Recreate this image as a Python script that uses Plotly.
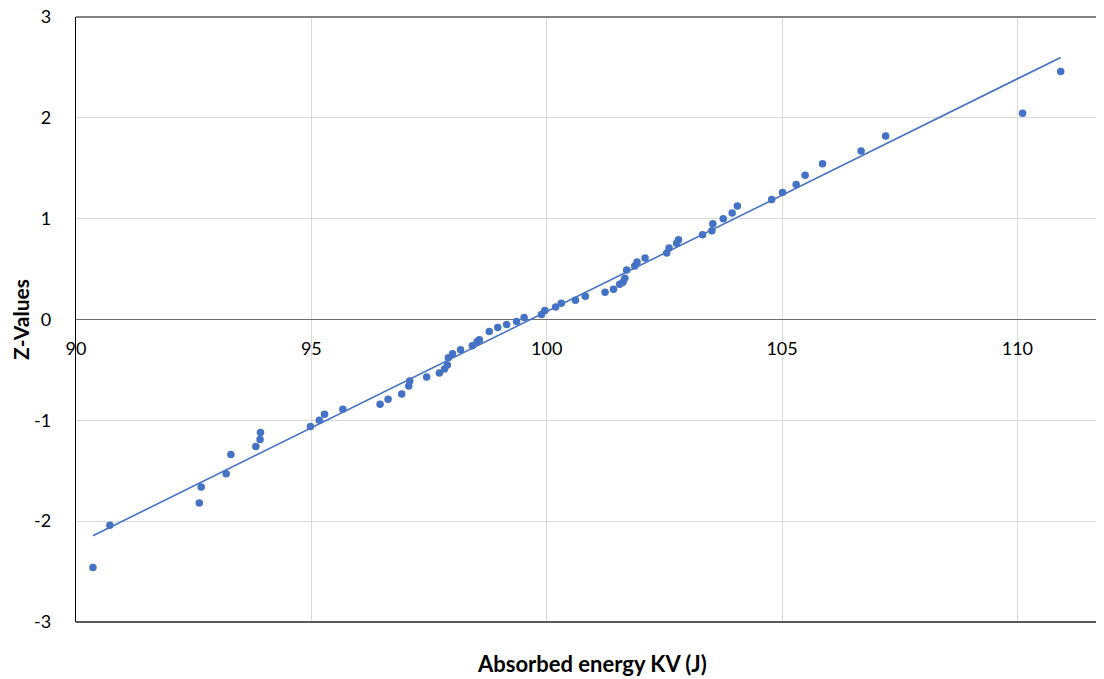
import numpy as np
import plotly.graph_objects as go

# Absorbed energy KV (J) values and their Z-values
energy = [90.36, 90.72, 92.62, 92.66, 93.19, 93.29, 93.82, 93.91, 93.92, 94.98,
          95.17, 95.28, 95.67, 96.46, 96.63, 96.92, 97.07, 97.09, 97.45, 97.72,
          97.83, 97.89, 97.91, 98.00, 98.17, 98.42, 98.52, 98.57, 98.78, 98.96,
          99.15, 99.36, 99.52, 99.89, 99.96, 100.19, 100.31, 100.61, 100.82, 101.24,
          101.42, 101.55, 101.62, 101.66, 101.70, 101.87, 101.92, 102.09, 102.55, 102.60,
          102.76, 102.80, 103.31, 103.51, 103.53, 103.75, 103.94, 104.05, 104.78, 105.01,
          105.30, 105.49, 105.86, 106.68, 107.20, 110.11, 110.92]
z_values = [-2.46, -2.04, -1.82, -1.66, -1.53, -1.34, -1.26, -1.19, -1.12, -1.06,
            -1.00, -0.94, -0.89, -0.84, -0.79, -0.74, -0.66, -0.61, -0.57, -0.53,
            -0.49, -0.45, -0.38, -0.34, -0.30, -0.26, -0.22, -0.20, -0.12, -0.08,
            -0.05, -0.02, 0.02, 0.05, 0.09, 0.125, 0.16, 0.19, 0.23, 0.27,
            0.30, 0.35, 0.37, 0.41, 0.49, 0.53, 0.57, 0.61, 0.66, 0.71,
            0.755, 0.79, 0.84, 0.88, 0.95, 1.00, 1.055, 1.125, 1.19, 1.26,
            1.34, 1.43, 1.545, 1.67, 1.82, 2.045, 2.46]

x_ticks = [90, 95, 100, 105, 110]
y_ticks = [-3, -2, -1, 0, 1, 2, 3]

BLUE = "#4472C4"

# Linear trendline (least squares) over the data range
slope, intercept = np.polyfit(energy, z_values, 1)
tx = np.array([min(energy), max(energy)])
ty = slope * tx + intercept

fig = go.Figure()
fig.add_trace(go.Scatter(x=tx, y=ty, mode="lines",
                         line=dict(color=BLUE, width=1.6), hoverinfo="skip",
                         showlegend=False))
fig.add_trace(go.Scatter(x=energy, y=z_values, mode="markers",
                         marker=dict(color=BLUE, size=7.5), showlegend=False))

font_family = "Lato, 'Open Sans', sans-serif"

fig.update_layout(
    width=1096, height=671,
    margin=dict(l=68, r=0, t=9, b=57, autoexpand=False),
    paper_bgcolor="white", plot_bgcolor="white",
    font=dict(family=font_family, size=18, color="#000000"),
    xaxis=dict(range=[90, 111.84], tickvals=x_ticks, ticktext=[str(v) for v in x_ticks],
               showgrid=True, gridcolor="#D9D9D9", gridwidth=1,
               zeroline=False, showline=False, ticks="", automargin=False,
               anchor="free", position=0.5, ticklabelstandoff=16,
               ticklabeloverflow="allow"),
    yaxis=dict(range=[-3, 3], tickvals=y_ticks, ticktext=[str(v) for v in y_ticks],
               showgrid=True, gridcolor="#D9D9D9", gridwidth=1,
               zeroline=True, zerolinecolor="#6E6E6E", zerolinewidth=1.3,
               showline=True, linecolor="#000000", linewidth=1.3, ticks="",
               automargin=False, ticklabelstandoff=20, ticklabeloverflow="allow"),
    shapes=[
        dict(type="line", xref="paper", yref="paper", x0=0, x1=1, y0=0, y1=0,
             line=dict(color="#595959", width=2)),
        dict(type="line", xref="paper", yref="paper", x0=0, x1=1, y0=1, y1=1,
             line=dict(color="#595959", width=1.5)),
    ],
    annotations=[
        dict(text="<b>Absorbed energy KV (J)</b>", xref="paper", yref="paper",
             x=0.502, y=-0.069, yanchor="middle", xanchor="center", showarrow=False,
             font=dict(family=font_family, size=22)),
        dict(text="<b>Z-Values</b>", xref="paper", yref="paper",
             x=-0.054, y=0.5, xanchor="center", yanchor="middle", textangle=-90,
             showarrow=False, font=dict(family=font_family, size=21)),
    ],
)

fig.write_html("out.html")
